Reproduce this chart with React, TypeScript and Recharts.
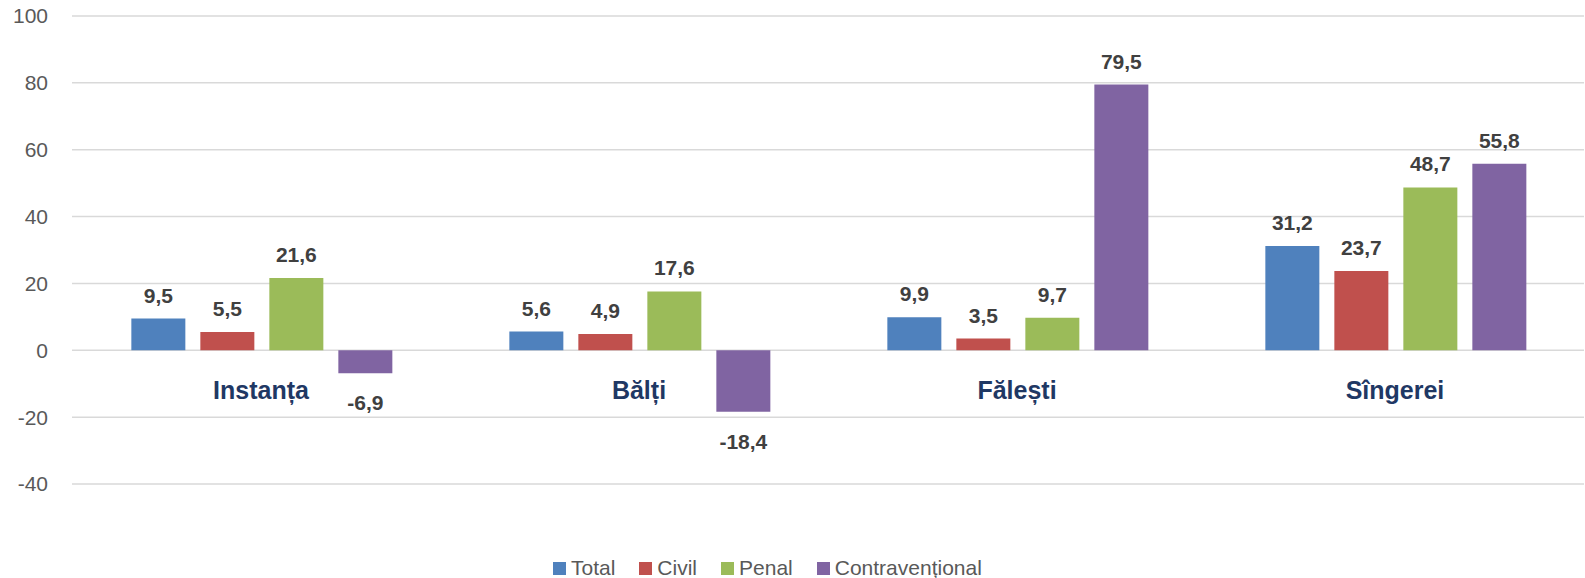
import React from "react";
import { BarChart, Bar, XAxis, YAxis, CartesianGrid, Legend, LabelList } from "recharts";

const categories = ["Instanța", "Bălți", "Fălești", "Sîngerei"];
const totalValues = [9.5, 5.6, 9.9, 31.2];
const civilValues = [5.5, 4.9, 3.5, 23.7];
const penalValues = [21.6, 17.6, 9.7, 48.7];
const contraValues = [-6.9, -18.4, 79.5, 55.8];
const yTicks = [-40, -20, 0, 20, 40, 60, 80, 100];

const seriesList = [
  { key: "total", name: "Total", color: "#4F81BD" },
  { key: "civil", name: "Civil", color: "#C0504D" },
  { key: "penal", name: "Penal", color: "#9BBB59" },
  { key: "contra", name: "Contravențional", color: "#8064A2" },
];

const data = categories.map((c, i) => ({
  name: c,
  total: totalValues[i],
  civil: civilValues[i],
  penal: penalValues[i],
  contra: contraValues[i],
}));

const FONT = "'Liberation Sans', Arial, sans-serif";

const fmt = (v: number) => v.toFixed(1).replace(".", ",");

const ValueLabel = (props: any) => {
  const { x, y, width, height, value } = props;
  const top = Math.min(y, y + height);
  const bottom = Math.max(y, y + height);
  const cx = x + width / 2;
  const ty = value >= 0 ? top - 16 : bottom + 37;
  return (
    <text x={cx} y={ty} textAnchor="middle" fontSize={21} fontWeight="bold" fill="#404040" fontFamily={FONT}>
      {fmt(value)}
    </text>
  );
};

const CategoryTick = (props: any) => {
  const { x, y, payload } = props;
  return (
    <text x={x} y={y - 85} textAnchor="middle" fontSize={25} fontWeight="bold" fill="#1F3864" fontFamily={FONT}>
      {payload.value}
    </text>
  );
};

const LegendContent = () => (
  <div style={{ display: "flex", alignItems: "center", height: 20, paddingLeft: 553, fontFamily: FONT }}>
    {seriesList.map((s) => (
      <div key={s.key} style={{ display: "flex", alignItems: "center", marginRight: 24 }}>
        <div style={{ width: 13, height: 13, background: s.color, marginRight: 5 }} />
        <span style={{ fontSize: 21, color: "#595959", lineHeight: "20px" }}>{s.name}</span>
      </div>
    ))}
  </div>
);

export default function App() {
  return (
    <div style={{ position: "absolute", left: 0, top: 0, width: 1585, height: 578, background: "#fff" }}>
      <BarChart
        width={1585}
        height={578}
        data={data}
        margin={{ top: 16, right: 1, left: 0, bottom: 0 }}
        barCategoryGap="15.7%"
        barGap={15}
      >
        <CartesianGrid vertical={false} stroke="#D9D9D9" strokeWidth={1.5} />
        <XAxis
          dataKey="name"
          axisLine={false}
          tickLine={false}
          tickSize={0}
          tickMargin={0}
          height={74}
          tick={<CategoryTick />}
          interval={0}
        />
        <YAxis
          width={72}
          domain={[-40, 100]}
          ticks={yTicks}
          axisLine={false}
          tickLine={false}
          tickSize={0}
          tickMargin={24}
          tick={{ fontSize: 21, fill: "#595959", fontFamily: FONT }}
          interval={0}
        />
        <Legend verticalAlign="bottom" height={20} content={<LegendContent />} />
        {seriesList.map((s) => (
          <Bar key={s.key} dataKey={s.key} name={s.name} fill={s.color} isAnimationActive={false}>
            <LabelList dataKey={s.key} content={<ValueLabel />} />
          </Bar>
        ))}
      </BarChart>
    </div>
  );
}
